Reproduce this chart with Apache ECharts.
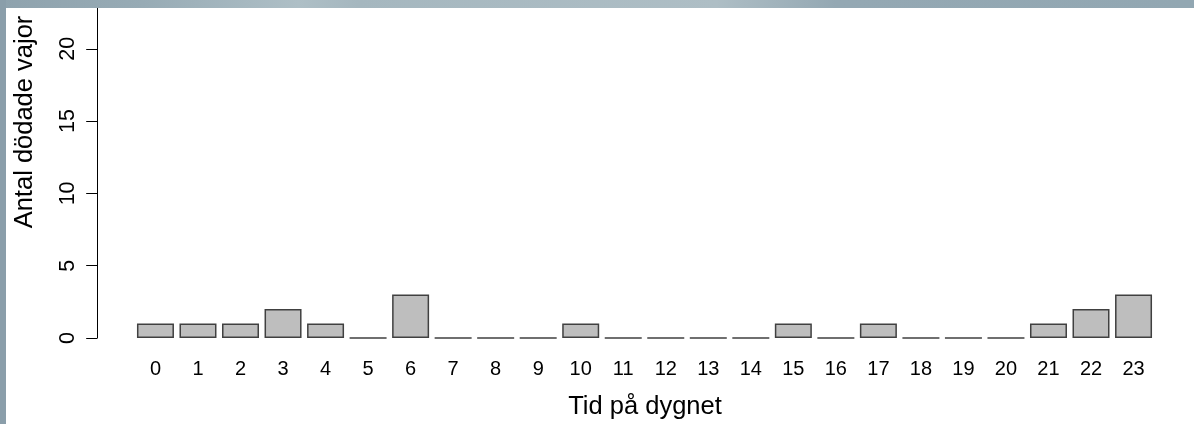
<!DOCTYPE html>
<html>
<head>
<meta charset="utf-8">
<script src="https://cdn.jsdelivr.net/npm/echarts@6/dist/echarts.min.js"></script>
<style>
html,body{margin:0;padding:0;background:#fff;}
#c{width:1194px;height:424px;}
</style>
</head>
<body>
<div id="c"></div>
<script>
const categories = ['0','1','2','3','4','5','6','7','8','9','10','11','12','13','14','15','16','17','18','19','20','21','22','23'];
const killed = [1,1,1,2,1,0,3,0,0,0,1,0,0,0,0,1,0,1,0,0,0,1,2,3];
const yTicks = [0,5,10,15,20,25];
const xTitle = 'Tid på dygnet';
const yTitle = 'Antal dödade vajor';

const chart = echarts.init(document.getElementById('c'), null, {renderer:'canvas'});
const FONT = '"Liberation Sans", Arial, sans-serif';
chart.setOption({
  backgroundColor: '#ffffff',
  animation: false,
  grid: {left: 134.2, right: 39.2, top: -23.5, bottom: 86, containLabel: false, outerBoundsMode: 'none'},
  xAxis: {
    type: 'category',
    data: categories,
    axisLine: {show: false},
    axisTick: {show: false},
    axisLabel: {color: '#000', fontFamily: FONT, fontSize: 20, margin: 21, lineHeight: 20, interval: 0}
  },
  yAxis: {
    type: 'value',
    min: yTicks[0],
    max: yTicks[yTicks.length-1],
    interval: 5,
    offset: 37,
    splitLine: {show: false},
    axisLine: {show: true, lineStyle: {color: '#000', width: 1}},
    axisTick: {show: true, length: 11, lineStyle: {color: '#000'}},
    axisLabel: {color: '#000', fontFamily: FONT, fontSize: 21.5, rotate: 90, margin: 18}
  },
  series: [{
    type: 'bar',
    data: killed,
    barCategoryGap: '13%',
    itemStyle: {color: '#bebebe', borderColor: '#404040', borderWidth: 1.5},
    emphasis: {disabled: true}
  }],
  graphic: [
    {type:'text', x: 645, y: 407, style: {text: xTitle, font: '25.5px ' + FONT, fill: '#000', textAlign: 'center', textVerticalAlign: 'middle'}},
    {type:'text', x: 25, y: 122, rotation: Math.PI/2, style: {text: yTitle, font: '25.5px ' + FONT, fill: '#000', textAlign: 'center', textVerticalAlign: 'middle'}},
    {type:'rect', x:0, y:0, z: 100, shape:{width:1194, height:8}, style:{fill: new echarts.graphic.LinearGradient(0,0,1,0,[
      {offset:0, color:'#8ea2ad'},{offset:0.12, color:'#97abb5'},{offset:0.25, color:'#aebfc6'},{offset:0.3, color:'#a5b7bf'},{offset:0.6, color:'#aebec5'},{offset:0.7, color:'#94a8b3'},{offset:1, color:'#92a7b2'}])}},
    {type:'rect', x:0, y:0, z: 100, shape:{width:6, height:424}, style:{fill:'#8a9eaa'}}
  ]
});
</script>
</body>
</html>
